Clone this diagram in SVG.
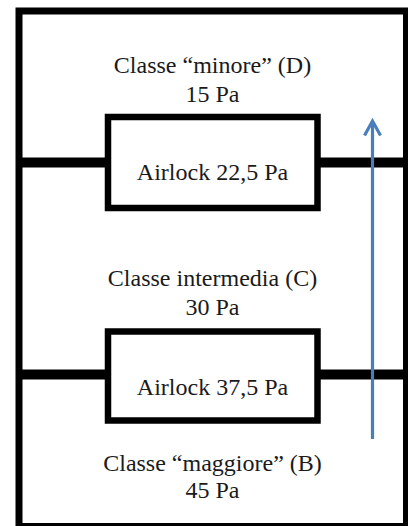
<svg xmlns="http://www.w3.org/2000/svg" width="408" height="526" viewBox="0 0 408 526">
  <defs>
    <style>
      .frame { fill: none; stroke: #000; stroke-width: 7; }
      .wall { stroke: #000; stroke-width: 10; }
      .airlock { fill: #fff; stroke: #000; stroke-width: 6.5; }
      .label { font-family: "Liberation Serif", "Times New Roman", serif; font-size: 24px; fill: #1a1a1a; text-anchor: middle; }
      .flow { fill: none; stroke: #4a7ebb; stroke-width: 3.2; stroke-linecap: butt; }
    </style>
  </defs>
  <rect width="408" height="526" fill="#fff"/>

  <!-- building outline -->
  <rect class="frame" x="19" y="11" width="387.5" height="515.5"/>

  <!-- partition walls between classes -->
  <g id="walls">
    <line class="wall" x1="19" y1="162.5" x2="408" y2="162.5"/>
    <line class="wall" x1="19" y1="374.5" x2="408" y2="374.5"/>
  </g>

  <g id="class-d">
    <text class="label" x="212.5" y="73">Classe “minore” (D)</text>
    <text class="label" x="212.5" y="102">15 Pa</text>
  </g>

  <g id="airlock-1">
    <rect class="airlock" x="108" y="117" width="209.5" height="91"/>
    <text class="label" x="212.5" y="180">Airlock 22,5 Pa</text>
  </g>

  <g id="class-c">
    <text class="label" x="212.5" y="286">Classe intermedia (C)</text>
    <text class="label" x="212.5" y="315">30 Pa</text>
  </g>

  <g id="airlock-2">
    <rect class="airlock" x="108" y="331.5" width="209.5" height="89"/>
    <text class="label" x="212.5" y="395">Airlock 37,5 Pa</text>
  </g>

  <g id="class-b">
    <text class="label" x="212.5" y="471">Classe “maggiore” (B)</text>
    <text class="label" x="212.5" y="498">45 Pa</text>
  </g>

  <!-- airflow direction -->
  <g id="connectors">
    <line class="flow" x1="372.5" y1="439" x2="372.5" y2="122"/>
    <polyline class="flow" points="364.5,135.5 372.5,121 380.5,135.5" stroke-linejoin="miter"/>
  </g>
</svg>
